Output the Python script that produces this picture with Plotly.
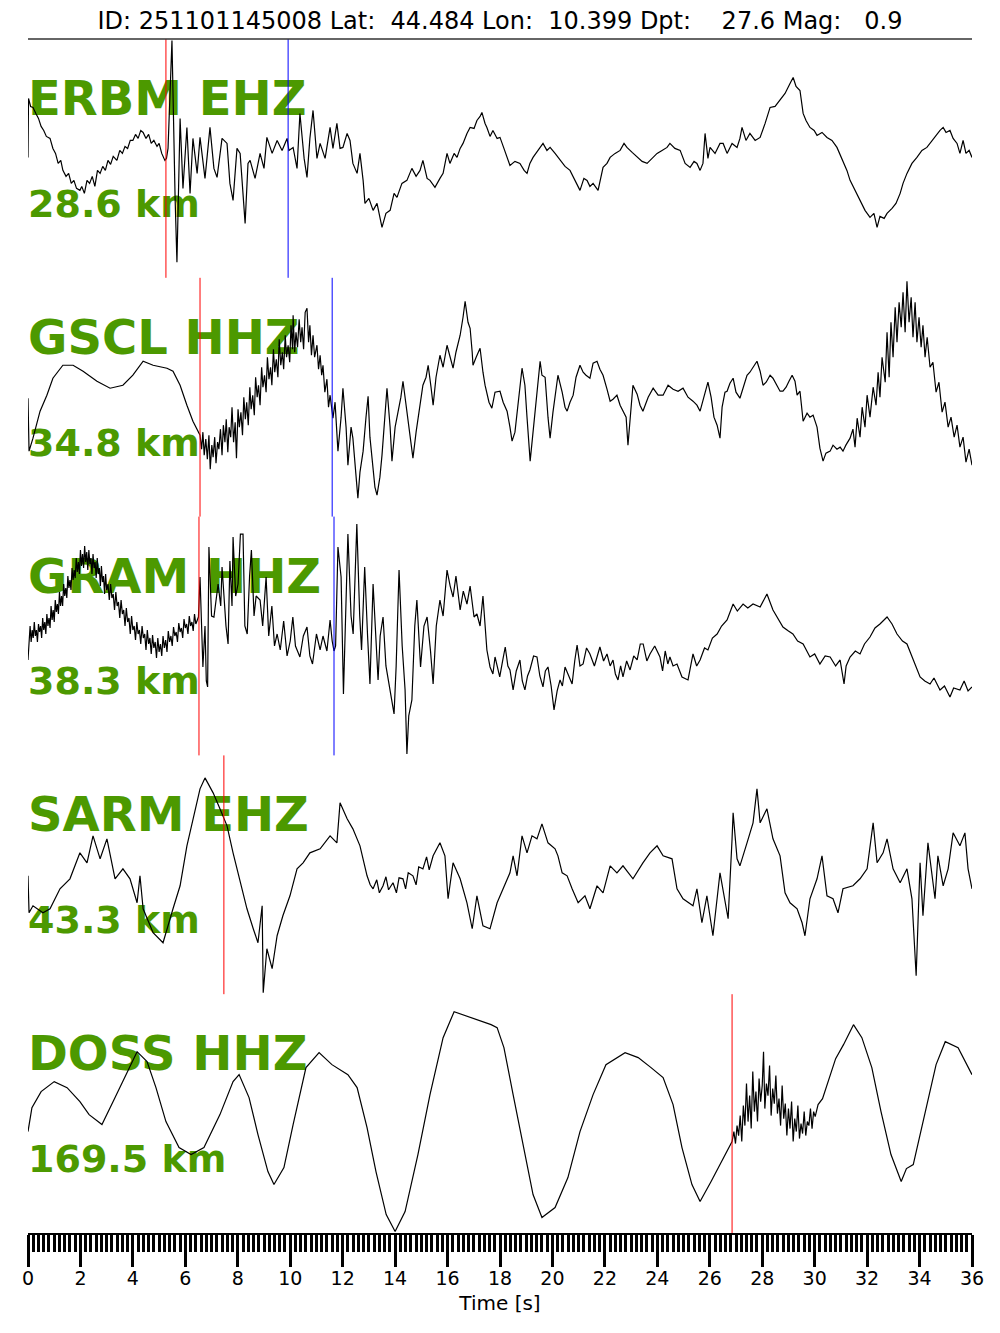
import plotly.graph_objects as go
from plotly.subplots import make_subplots

title_text = "ID: 251101145008 Lat:  44.484 Lon:  10.399 Dpt:    27.6 Mag:   0.9"
stations = ["ERBM EHZ", "GSCL HHZ", "GRAM HHZ", "SARM EHZ", "DOSS HHZ"]
distances = ["28.6 km", "34.8 km", "38.3 km", "43.3 km", "169.5 km"]
p_picks = [5.26, 6.56, 6.52, 7.47, 26.85]
s_picks = [9.92, 11.60, 11.67, None, None]

# (time [s], amplitude [arbitrary units]) samples
erbm = [(0.00, 1), (0.02, 60), (0.10, 52), (0.19, 51), (0.30, 45), (0.40, 40), (0.50, 32), (0.60, 28),
        (0.70, 22), (0.84, 20), (0.95, 10), (1.05, 5), (1.15, -5), (1.25, -2), (1.33, -12), (1.45, -18),
        (1.55, -15), (1.65, -25), (1.75, -22), (1.85, -30), (1.98, -32), (2.05, -28), (2.15, -35), (2.25, -22),
        (2.35, -25), (2.45, -18), (2.55, -28), (2.65, -12), (2.75, -15), (2.85, -8), (2.95, -12), (3.05, -2),
        (3.15, -6), (3.25, 2), (3.39, -2), (3.50, 8), (3.60, 5), (3.70, 12), (3.80, 10), (3.90, 18),
        (4.00, 18), (4.10, 24), (4.20, 20), (4.30, 28), (4.39, 26), (4.50, 20), (4.60, 24), (4.70, 15),
        (4.80, 18), (4.92, 12), (5.00, 15), (5.10, 5), (5.22, -2), (5.28, 0), (5.34, 10), (5.49, 118),
        (5.61, -40), (5.68, -104), (5.80, 40), (5.91, -30), (6.06, 31), (6.18, -35), (6.29, 20), (6.45, -15),
        (6.56, 21), (6.75, -20), (6.94, 31), (7.09, -10), (7.21, -19), (7.40, 20), (7.59, 15), (7.70, -25),
        (7.82, -42), (7.97, 10), (8.09, 5), (8.20, -40), (8.28, -65), (8.39, -5), (8.47, -2), (8.66, -20),
        (8.85, 5), (9.00, -10), (9.11, 21), (9.31, 5), (9.50, 18), (9.69, 8), (9.88, 20), (9.95, 8),
        (10.11, 11), (10.26, -10), (10.37, 45), (10.53, 0), (10.64, -19), (10.75, 20), (10.87, 48),
        (11.02, 0), (11.14, 15), (11.33, 0), (11.52, 31), (11.63, 10), (11.78, 35), (11.90, 10), (12.01, 11),
        (12.17, 25), (12.28, 18), (12.39, -5), (12.55, -15), (12.66, 5), (12.78, -22), (12.85, -45),
        (13.00, -40), (13.16, -52), (13.31, -45), (13.50, -69), (13.65, -55), (13.81, -52), (13.96, -35),
        (14.07, -39), (14.26, -25), (14.45, -22), (14.64, -10), (14.80, -18), (14.95, -12), (15.06, -2),
        (15.22, -20), (15.33, -22), (15.52, -29), (15.71, -20), (15.83, -15), (15.98, 5), (16.09, -5),
        (16.25, 5), (16.36, 1), (16.48, 10), (16.59, 15), (16.74, 25), (16.86, 31), (17.01, 30), (17.12, 38),
        (17.24, 42), (17.31, 46), (17.43, 35), (17.50, 31), (17.62, 22), (17.73, 28), (17.89, 20), (18.00, 21),
        (18.15, 10), (18.27, 1), (18.38, -7), (18.57, -3), (18.76, -5), (18.92, -12), (19.03, -15), (19.14, -5),
        (19.26, 1), (19.45, 8), (19.64, 15), (19.79, 8), (19.91, 11), (20.10, 5), (20.29, -2), (20.48, -8),
        (20.67, -12), (20.86, -22), (21.05, -32), (21.20, -20), (21.32, -22), (21.43, -28), (21.55, -25),
        (21.74, -32), (21.93, -9), (22.08, -5), (22.20, 1), (22.39, 5), (22.58, 8), (22.73, 15), (22.84, 11),
        (23.04, 6), (23.23, 1), (23.42, -3), (23.61, -5), (23.80, 0), (23.99, 5), (24.18, 8), (24.37, 11),
        (24.48, 15), (24.67, 10), (24.87, 8), (25.06, -5), (25.25, -9), (25.40, -3), (25.51, -5), (25.63, -12),
        (25.74, -5), (25.82, 25), (25.93, 0), (26.01, 11), (26.20, 5), (26.39, 15), (26.51, 15), (26.66, 5),
        (26.85, 15), (27.04, 11), (27.15, 20), (27.23, 31), (27.38, 18), (27.53, 25), (27.73, 18), (27.92, 21),
        (28.11, 35), (28.30, 51), (28.49, 52), (28.68, 58), (28.87, 65), (29.06, 75), (29.18, 81), (29.29, 72),
        (29.44, 68), (29.56, 45), (29.67, 38), (29.82, 31), (29.98, 28), (30.09, 23), (30.28, 26), (30.47, 21),
        (30.66, 18), (30.85, 11), (31.08, -2), (31.23, -12), (31.35, -22), (31.54, -32), (31.73, -42),
        (31.92, -52), (32.11, -59), (32.26, -55), (32.38, -69), (32.49, -58), (32.65, -60), (32.76, -55),
        (32.95, -50), (33.10, -45), (33.26, -35), (33.37, -25), (33.52, -15), (33.71, -5), (33.90, 1),
        (34.09, 8), (34.28, 11), (34.48, 18), (34.67, 25), (34.78, 28), (34.90, 31), (35.01, 26), (35.16, 28),
        (35.28, 20), (35.43, 15), (35.54, 5), (35.66, 18), (35.77, 5), (35.89, 8), (36.00, 1)]

gscl = [(0.00, -1), (0.04, -54), (0.19, -41), (0.46, -14), (0.72, 2), (0.95, 19), (1.33, 32), (1.72, 32),
        (2.10, 26), (2.63, 16), (3.13, 9), (3.62, 12), (4.00, 22), (4.39, 36), (4.77, 32), (5.30, 29),
        (5.53, 26), (5.80, 12), (6.06, -8), (6.29, -24), (6.56, -38),
        (6.62, -52), (6.67, -35), (6.72, -58), (6.78, -42), (6.84, -62), (6.90, -38), (6.95, -72), (7.01, -48),
        (7.06, -60), (7.12, -40), (7.17, -66), (7.23, -45), (7.28, -52), (7.34, -32), (7.40, -58), (7.45, -28),
        (7.51, -45), (7.56, -22), (7.62, -55), (7.67, -30), (7.73, -40), (7.78, -10), (7.84, -45), (7.90, -25),
        (7.95, -61), (8.01, -12), (8.06, -30), (8.12, -15), (8.18, -38), (8.23, 0), (8.29, -22), (8.34, -5),
        (8.40, -28), (8.46, 10), (8.51, -12), (8.57, 2), (8.63, -18), (8.68, 20), (8.74, 0), (8.79, 12),
        (8.85, -8), (8.91, 30), (8.96, 10), (9.02, 22), (9.08, 5), (9.13, 40), (9.19, 18), (9.25, 30),
        (9.30, 12), (9.36, 48), (9.41, 25), (9.47, 38), (9.53, 20), (9.58, 58), (9.64, 32), (9.70, 45),
        (9.75, 28), (9.81, 62), (9.86, 40), (9.92, 52), (9.98, 35), (10.03, 72), (10.09, 48), (10.11, 82),
        (10.17, 45), (10.22, 65), (10.28, 50), (10.34, 78), (10.40, 55), (10.45, 70), (10.51, 48), (10.57, 85),
        (10.64, 89), (10.70, 55), (10.75, 72), (10.81, 42), (10.87, 62), (10.93, 40), (11.02, 52), (11.08, 28),
        (11.14, 42), (11.20, 22), (11.25, 32), (11.32, 5), (11.40, 18), (11.46, -10), (11.52, 2),
        (11.63, -21), (11.71, -5), (11.82, -54), (11.94, -20), (12.01, 9), (12.13, -30), (12.20, -68),
        (12.32, -30), (12.39, -41), (12.51, -80), (12.58, -101), (12.66, -75), (12.78, -54), (12.89, -20),
        (12.97, 1), (13.04, -40), (13.12, -64), (13.23, -90), (13.31, -98), (13.42, -80), (13.50, -58),
        (13.62, -20), (13.69, 9), (13.81, -30), (13.88, -64), (14.00, -30), (14.11, -14), (14.22, 0),
        (14.30, 16), (14.41, -5), (14.49, -21), (14.61, -45), (14.68, -61), (14.80, -35), (14.87, -21),
        (14.99, 0), (15.06, 12), (15.18, 20), (15.26, 32), (15.37, 10), (15.45, -8), (15.56, 20), (15.71, 42),
        (15.83, 30), (15.98, 52), (16.10, 40), (16.21, 29), (16.32, 45), (16.48, 62), (16.59, 80), (16.67, 96),
        (16.78, 75), (16.86, 69), (16.94, 45), (16.97, 32), (17.09, 40), (17.24, 49), (17.35, 25), (17.43, 12),
        (17.58, -5), (17.69, -11), (17.81, 5), (18.00, 6), (18.12, -5), (18.27, -14), (18.38, -30), (18.46, -44),
        (18.57, -35), (18.65, -18), (18.76, 10), (18.84, 29), (18.95, 12), (19.03, -20), (19.15, -64),
        (19.26, -35), (19.41, 6), (19.53, 36), (19.60, 22), (19.72, 20), (19.83, -20), (19.91, -41),
        (20.02, -15), (20.14, 10), (20.21, 22), (20.37, 5), (20.48, -10), (20.56, -14), (20.67, -5), (20.79, 2),
        (20.90, 20), (21.05, 32), (21.17, 25), (21.28, 22), (21.43, 19), (21.55, 34), (21.70, 36), (21.81, 28),
        (21.93, 22), (22.08, 8), (22.20, -4), (22.31, -2), (22.46, 2), (22.58, -8), (22.69, -14), (22.81, -20),
        (22.88, -48), (23.00, -10), (23.07, 12), (23.23, 3), (23.34, -8), (23.45, -14), (23.65, 0), (23.84, 9),
        (24.03, 2), (24.22, 2), (24.41, 12), (24.60, 8), (24.79, 6), (24.98, 9), (25.17, 0), (25.36, -4),
        (25.51, -8), (25.63, -14), (25.78, 2), (25.93, 15), (26.05, 0), (26.16, -20), (26.28, -28), (26.39, -41),
        (26.47, -10), (26.58, 5), (26.66, 6), (26.77, 14), (26.89, 19), (27.00, 5), (27.15, -1), (27.27, 10),
        (27.42, 22), (27.53, 25), (27.65, 30), (27.80, 36), (27.92, 26), (28.03, 12), (28.15, 15), (28.30, 22),
        (28.41, 19), (28.56, 12), (28.68, 6), (28.79, 6), (28.91, 10), (29.02, 16), (29.14, 22), (29.25, 16),
        (29.33, 2), (29.44, 6), (29.56, -24), (29.71, -16), (29.82, -20), (29.94, -18), (30.09, -30),
        (30.20, -51), (30.32, -64), (30.43, -56), (30.59, -54), (30.70, -48), (30.85, -52), (30.97, -50),
        (31.08, -54), (31.19, -48), (31.35, -41), (31.46, -32), (31.54, -50), (31.62, -21), (31.73, -40),
        (31.81, -10), (31.92, -30), (32.00, 2), (32.11, -20), (32.23, 10), (32.34, -8), (32.42, 25), (32.49, 0),
        (32.57, 40), (32.69, 15), (32.76, 65), (32.84, 20), (32.91, 75), (32.99, 40), (33.07, 90), (33.14, 55),
        (33.22, 95), (33.30, 70), (33.37, 105), (33.45, 65), (33.52, 116), (33.60, 75), (33.68, 100), (33.75, 60),
        (33.83, 95), (33.90, 55), (33.98, 80), (34.06, 50), (34.13, 72), (34.21, 40), (34.29, 60), (34.40, 30),
        (34.51, 35), (34.63, 5), (34.74, 15), (34.86, -15), (34.97, -5), (35.09, -30), (35.20, -20), (35.32, -40),
        (35.43, -28), (35.54, -50), (35.66, -40), (35.77, -65), (35.89, -52), (36.00, -68)]

gram = [(0.00, -24), (0.04, -2), (0.08, 10), (0.12, -6), (0.16, 6), (0.20, -2), (0.24, 14), (0.28, 0),
        (0.32, 6), (0.36, -6), (0.40, 12), (0.44, 4), (0.48, 10), (0.52, -2), (0.56, 18), (0.60, 6),
        (0.64, 14), (0.68, 2), (0.72, 22), (0.76, 10), (0.80, 18), (0.84, 8), (0.88, 30), (0.92, 16),
        (0.96, 26), (1.00, 14), (1.04, 36), (1.08, 24), (1.12, 32), (1.16, 22), (1.20, 44), (1.24, 30),
        (1.28, 40), (1.32, 30), (1.36, 52), (1.40, 40), (1.44, 48), (1.48, 38), (1.52, 60), (1.56, 48),
        (1.60, 56), (1.64, 46), (1.68, 68), (1.72, 56), (1.76, 66), (1.80, 58), (1.84, 78), (1.88, 64),
        (1.92, 74), (1.96, 62), (2.00, 86), (2.04, 70), (2.08, 82), (2.12, 68), (2.16, 90), (2.20, 74),
        (2.24, 84), (2.28, 66), (2.32, 86), (2.36, 72), (2.40, 78), (2.44, 62), (2.48, 82), (2.52, 68),
        (2.56, 74), (2.60, 58), (2.64, 78), (2.68, 62), (2.72, 68), (2.76, 50), (2.80, 70), (2.84, 54),
        (2.88, 60), (2.92, 42), (2.96, 62), (3.00, 46), (3.05, 52), (3.10, 36), (3.15, 52), (3.20, 38),
        (3.25, 42), (3.30, 26), (3.35, 44), (3.40, 30), (3.45, 34), (3.50, 18), (3.55, 36), (3.60, 22),
        (3.65, 26), (3.70, 10), (3.75, 28), (3.80, 14), (3.85, 18), (3.90, 2), (3.95, 20), (4.00, 6),
        (4.05, 10), (4.10, -4), (4.15, 14), (4.20, 2), (4.25, 6), (4.30, -8), (4.35, 10), (4.40, -2),
        (4.45, 2), (4.50, -14), (4.55, 6), (4.60, -8), (4.65, -2), (4.70, -18), (4.75, 1), (4.80, -12),
        (4.85, -6), (4.90, -22), (4.95, -2), (5.00, -16), (5.05, -8), (5.10, -20), (5.15, 0), (5.20, -12),
        (5.25, -4), (5.30, -16), (5.35, 5), (5.40, -6), (5.45, 0), (5.50, -10), (5.55, 9), (5.60, 0),
        (5.65, 4), (5.70, -6), (5.75, 13), (5.80, 4), (5.85, 8), (5.90, -2), (5.95, 17), (6.00, 8),
        (6.05, 12), (6.10, 2), (6.15, 20), (6.20, 10), (6.25, 14), (6.30, 5), (6.35, 22), (6.40, 12),
        (6.45, 16), (6.50, 19),
        (6.56, 59), (6.67, -31), (6.75, 10), (6.80, -45), (6.85, -51), (6.90, 89), (7.00, 20), (7.09, 19),
        (7.25, 52), (7.35, 30), (7.40, 69), (7.55, 10), (7.63, -8), (7.70, 75), (7.78, 30), (7.82, 99),
        (7.92, 40), (8.01, 52), (8.10, 102), (8.20, 102), (8.27, 10), (8.36, 2), (8.45, 60), (8.52, 86),
        (8.62, 20), (8.70, 40), (8.85, 36), (8.95, 10), (9.08, 59), (9.18, 0), (9.30, 30), (9.40, -10),
        (9.50, 2), (9.62, -14), (9.75, 15), (9.88, -20), (10.00, -5), (10.10, 19), (10.20, -10), (10.37, -21),
        (10.50, 0), (10.64, 9), (10.75, -20), (10.85, -28), (11.00, 2), (11.14, -14), (11.25, 0), (11.40, -15),
        (11.52, 16), (11.60, -5), (11.67, -15), (11.73, -10), (11.82, 89), (11.94, 59), (12.03, -58),
        (12.14, 45), (12.20, 102), (12.32, 20), (12.40, 2), (12.54, 112), (12.65, 20), (12.72, -14), (12.80, 40),
        (12.84, 69), (12.95, 0), (13.04, -48), (13.16, 52), (13.30, -30), (13.35, -44), (13.43, 0), (13.54, 19),
        (13.65, -30), (13.80, -54), (13.96, -78), (14.04, -30), (14.15, 66), (14.27, -10), (14.38, -54),
        (14.45, -118), (14.52, -80), (14.64, -64), (14.75, 10), (14.83, 36), (14.97, -31), (15.10, 10),
        (15.22, 19), (15.35, -15), (15.45, -48), (15.57, 10), (15.71, 36), (15.83, 20), (15.98, 66), (16.10, 50),
        (16.21, 39), (16.32, 60), (16.48, 26), (16.60, 45), (16.74, 32), (16.86, 50), (17.01, 19), (17.12, 22),
        (17.24, 10), (17.35, 40), (17.50, -14), (17.62, -31), (17.73, -38), (17.81, -21), (17.99, -41),
        (18.10, -25), (18.20, -11), (18.30, -30), (18.38, -34), (18.50, -54), (18.62, -35), (18.76, -24),
        (18.85, -45), (18.95, -54), (19.05, -40), (19.14, -34), (19.28, -20), (19.41, -21), (19.52, -40),
        (19.64, -51), (19.73, -35), (19.83, -31), (19.95, -50), (20.06, -74), (20.18, -55), (20.29, -44),
        (20.38, -50), (20.48, -31), (20.62, -40), (20.75, -48), (20.85, -25), (20.94, -9), (21.05, -30),
        (21.17, -28), (21.30, -12), (21.43, -18), (21.60, -30), (21.81, -11), (21.95, -25), (22.08, -18),
        (22.20, -30), (22.31, -24), (22.40, -38), (22.50, -44), (22.60, -30), (22.69, -41), (22.83, -25),
        (22.96, -34), (23.10, -20), (23.23, -24), (23.35, -8), (23.46, -8), (23.60, -25), (23.72, -18),
        (23.90, -10), (24.10, -21), (24.20, -35), (24.30, -15), (24.40, -28), (24.48, -21), (24.60, -30),
        (24.75, -28), (24.94, -41), (25.17, -44), (25.36, -18), (25.50, -30), (25.63, -24), (25.80, -12),
        (25.93, -14), (26.10, -2), (26.28, 2), (26.45, 10), (26.66, 16), (26.89, 32), (27.05, 25), (27.27, 32),
        (27.45, 28), (27.65, 32), (27.92, 29), (28.18, 42), (28.41, 26), (28.60, 18), (28.79, 9), (29.00, 5),
        (29.17, 2), (29.35, -5), (29.56, -8), (29.82, -21), (30.00, -18), (30.20, -28), (30.40, -20),
        (30.59, -21), (30.80, -30), (30.97, -24), (31.05, -35), (31.12, -48), (31.20, -30), (31.35, -21),
        (31.55, -15), (31.73, -18), (31.90, -8), (32.11, -1), (32.30, 8), (32.49, 12), (32.76, 19), (32.95, 12),
        (33.14, 2), (33.35, -5), (33.52, -8), (33.75, -24), (34.02, -41), (34.20, -45), (34.40, -48),
        (34.55, -42), (34.78, -54), (34.95, -50), (35.16, -61), (35.30, -52), (35.54, -54), (35.70, -45),
        (35.85, -55), (36.00, -51)]

sarm = [(0.00, -1), (0.04, -38), (0.19, -31), (0.57, -38), (0.84, -34), (1.22, -14), (1.60, -4), (1.98, 22),
        (2.25, 12), (2.48, 39), (2.75, 16), (3.01, 36), (3.32, -4), (3.62, 6), (3.89, -4), (4.16, -28),
        (4.27, -1), (4.39, -34), (4.77, -58), (5.15, -68), (5.53, -34), (5.80, -11), (6.06, 29), (6.29, 56),
        (6.56, 86), (6.75, 97), (7.06, 82), (7.32, 66), (7.59, 49), (7.82, 22), (8.09, -8), (8.35, -34),
        (8.59, -54), (8.77, -68), (8.93, -31), (8.97, -118), (9.11, -74), (9.31, -94), (9.50, -61), (9.72, -41),
        (9.99, -21), (10.26, 6), (10.49, 12), (10.75, 22), (11.14, 26), (11.52, 39), (11.78, 32), (11.90, 72),
        (12.17, 56), (12.39, 46), (12.66, 29), (12.93, -1), (13.05, -10), (13.16, -14), (13.30, -5),
        (13.40, -18), (13.54, -11), (13.65, -2), (13.75, -15), (13.92, -8), (14.05, -18), (14.15, -3),
        (14.30, -4), (14.40, -14), (14.50, 2), (14.68, -1), (14.80, -10), (14.90, 8), (15.06, 6), (15.20, 18),
        (15.30, 5), (15.45, 19), (15.71, 32), (15.90, 19), (16.02, -24), (16.21, 12), (16.48, -4), (16.74, -28),
        (16.94, -54), (17.12, -21), (17.35, -51), (17.62, -54), (17.89, -28), (18.12, -14), (18.38, 2),
        (18.50, 19), (18.65, -1), (18.84, 39), (19.03, 22), (19.22, 39), (19.41, 36), (19.60, 51), (19.83, 32),
        (20.10, 26), (20.21, 19), (20.37, 2), (20.56, -1), (20.75, -14), (20.98, -28), (21.24, -21),
        (21.43, -34), (21.70, -11), (21.93, -18), (22.20, 9), (22.46, 2), (22.69, 9), (23.07, -4), (23.45, 12),
        (23.72, 22), (23.99, 29), (24.22, 19), (24.56, 16), (24.75, -14), (24.98, -24), (25.36, -31),
        (25.51, -14), (25.70, -48), (25.89, -21), (26.12, -61), (26.39, 2), (26.58, -28), (26.70, -44),
        (26.85, 36), (26.89, 62), (27.04, 16), (27.15, 9), (27.42, 32), (27.65, 52), (27.80, 86), (27.92, 52),
        (28.18, 66), (28.41, 36), (28.68, 19), (28.87, -18), (29.06, -28), (29.33, -34), (29.52, -48),
        (29.63, -61), (29.82, -24), (30.09, -4), (30.28, 19), (30.47, -21), (30.70, -24), (30.89, -38),
        (31.08, -14), (31.46, -11), (31.73, -4), (32.00, 6), (32.23, 52), (32.38, 12), (32.61, 22), (32.76, 36),
        (32.99, 6), (33.26, -8), (33.52, 6), (33.71, -24), (33.87, -101), (34.02, 12), (34.13, -41), (34.32, 32),
        (34.59, -24), (34.70, 19), (34.90, -11), (35.09, 6), (35.28, 42), (35.54, 29), (35.73, 42), (35.85, 6),
        (36.00, -14)]

doss = [(0.00, -18), (0.15, 6), (0.50, 22), (1.00, 32), (1.49, 26), (1.98, 12), (2.33, -1), (2.82, -11),
        (3.32, 16), (3.81, 42), (4.16, 62), (4.54, 52), (4.88, 26), (5.26, -8), (5.76, -34), (6.22, -41),
        (6.71, -34), (7.32, -1), (7.82, 32), (8.05, 39), (8.43, 16), (8.77, -21), (9.15, -58), (9.38, -71),
        (9.76, -54), (10.11, -11), (10.60, 46), (11.10, 61), (11.59, 49), (12.20, 39), (12.55, 26), (12.93, -14),
        (13.27, -58), (13.66, -101), (14.00, -118), (14.38, -98), (14.87, -41), (15.33, 19), (15.83, 76),
        (16.25, 102), (16.93, 96), (17.66, 89), (17.89, 86), (18.15, 66), (18.50, 19), (18.88, -31),
        (19.26, -81), (19.60, -104), (20.10, -94), (20.59, -64), (21.05, -18), (21.55, 19), (22.04, 49),
        (22.77, 61), (23.27, 56), (23.76, 46), (24.22, 36), (24.60, 9), (24.94, -34), (25.32, -71),
        (25.63, -88), (26.05, -68), (26.54, -44), (26.85, -28),
        (26.92, -18), (26.98, -30), (27.04, -12), (27.10, -22), (27.16, -2), (27.22, -28), (27.28, 8),
        (27.34, -12), (27.40, 30), (27.46, -8), (27.52, 18), (27.58, -15), (27.64, 42), (27.70, 2),
        (27.76, 22), (27.82, -8), (27.88, 35), (27.94, 12), (28.00, 28), (28.05, 62), (28.10, 5), (28.16, 30),
        (28.22, 18), (28.28, 48), (28.34, -2), (28.40, 25), (28.46, 10), (28.52, 38), (28.58, 0), (28.64, 15),
        (28.70, -12), (28.76, 28), (28.82, -5), (28.88, 10), (28.94, -22), (29.00, 5), (29.06, -15),
        (29.12, 12), (29.18, -28), (29.24, -5), (29.30, -18), (29.36, 8), (29.42, -25), (29.48, -10),
        (29.54, -20), (29.60, 2), (29.66, -22), (29.72, -8), (29.78, -12), (29.84, 5), (29.90, -15),
        (29.96, 2), (30.02, -3),
        (30.13, 9), (30.30, 15), (30.60, 39), (30.80, 55), (31.10, 69), (31.48, 89), (31.80, 76), (32.18, 46),
        (32.53, 2), (32.91, -41), (33.30, -68), (33.50, -55), (33.76, -51), (34.14, -8), (34.63, 49),
        (34.98, 72), (35.47, 66), (36.00, 39)]

series = [erbm, gscl, gram, sarm, doss]

FONT = "DejaVu Sans"
GREEN = "#4C9900"

fig = make_subplots(rows=5, cols=1, shared_xaxes=True, vertical_spacing=0)

for i in range(5):
    r = i + 1
    t_vals = [p[0] for p in series[i]]
    a_vals = [p[1] for p in series[i]]
    fig.add_trace(go.Scatter(
        x=[0, 0], y=[55.5, -49], mode="text",
        text=["<b>" + stations[i] + "</b>", "<b>" + distances[i] + "</b>"],
        textposition="middle right",
        textfont=dict(family=FONT, size=[48, 38], color=GREEN),
        hoverinfo="skip", showlegend=False, cliponaxis=False), row=r, col=1)
    fig.add_trace(go.Scatter(
        x=t_vals, y=a_vals, mode="lines",
        line=dict(color="black", width=1.2),
        hoverinfo="skip", showlegend=False), row=r, col=1)
    yref = "y domain" if r == 1 else f"y{r} domain"
    xref = "x" if r == 1 else f"x{r}"
    fig.add_shape(type="line", xref=xref, yref=yref, x0=p_picks[i], x1=p_picks[i], y0=0, y1=1,
                  line=dict(color="red", width=1), layer="above")
    if s_picks[i] is not None:
        fig.add_shape(type="line", xref=xref, yref=yref, x0=s_picks[i], x1=s_picks[i], y0=0, y1=1,
                      line=dict(color="blue", width=1), layer="above")
    fig.update_yaxes(range=[-119.5, 119.5], visible=False, showgrid=False, zeroline=False, row=r, col=1)
    fig.update_xaxes(range=[0, 36], showgrid=False, zeroline=False, row=r, col=1)

for r in range(1, 5):
    fig.update_xaxes(ticks="", showticklabels=False, showline=False, row=r, col=1)

fig.update_xaxes(
    row=5, col=1,
    tickmode="linear", tick0=0, dtick=2, ticks="outside", ticklen=32, tickwidth=2.5, tickcolor="black",
    showticklabels=True, tickfont=dict(family=FONT, size=19, color="black"), ticklabelstandoff=-5,
    showline=True, linecolor="black", linewidth=2,
    minor=dict(ticks="outside", dtick=0.2, tick0=0, ticklen=17, tickwidth=2.5, tickcolor="black", showgrid=False),
    title=dict(text="Time [s]", font=dict(family=FONT, size=20, color="black"), standoff=8),
)

fig.add_shape(type="line", xref="paper", yref="paper", x0=0, x1=1, y0=1, y1=1,
              line=dict(color="#333333", width=1.5))

# the page body adds an 8 px offset; margins compensate so the plot lands where the reference has it
fig.update_layout(
    width=1000, height=1333,
    margin=dict(l=20, r=36, t=31, b=108),
    paper_bgcolor="white", plot_bgcolor="white",
    showlegend=False,
    title=dict(text=title_text.replace(" ", "\u00a0"), x=0.5 - 8 / 1000, xanchor="center",
               y=1 - 13 / 1333, yref="container", yanchor="middle",
               font=dict(family=FONT, size=24, color="black")),
)

fig.write_html("out.html")
